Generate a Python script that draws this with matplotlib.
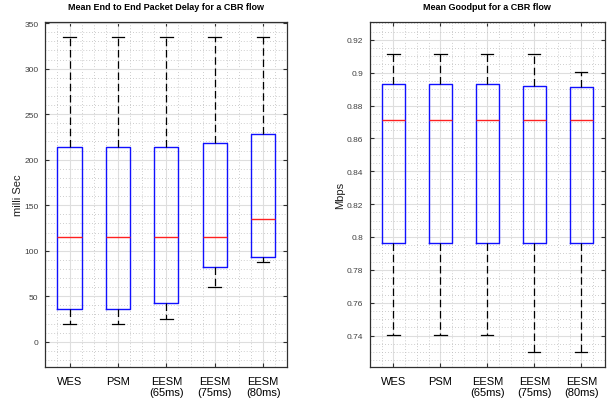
"""Box plots of mean delay and goodput for a CBR flow."""

import matplotlib

matplotlib.use("Agg")
import matplotlib.pyplot as plt
from matplotlib.ticker import MultipleLocator

plt.rcParams["font.family"] = ["Liberation Sans", "DejaVu Sans"]

schemes = ["WES", "PSM", "EESM\n(65ms)", "EESM\n(75ms)", "EESM\n(80ms)"]

# delay in milli seconds
delay_whislo = [19.8, 19.8, 24.9, 60.4, 87.5]
delay_q1 = [35.6, 35.6, 42.2, 82.4, 92.7]
delay_med = [114.6, 114.6, 114.6, 114.6, 134.4]
delay_q3 = [213.5, 213.5, 213.5, 217.9, 228.4]
delay_whishi = [334.3, 334.3, 334.3, 334.3, 334.3]

# goodput in Mbps
gp_whislo = [0.7403, 0.7403, 0.7403, 0.7301, 0.7301]
gp_q1 = [0.7966, 0.7966, 0.7966, 0.7966, 0.7966]
gp_med = [0.8713, 0.8713, 0.8713, 0.8713, 0.8713]
gp_q3 = [0.8930, 0.8930, 0.8930, 0.8920, 0.8915]
gp_whishi = [0.9116, 0.9116, 0.9116, 0.9116, 0.9003]

BOX_BLUE = "#1010ff"
MED_RED = "#ff2020"
TICK_GRAY = "#404040"


def make_stats(whislo, q1, med, q3, whishi):
    return [
        dict(whislo=lo, q1=a, med=m, q3=b, whishi=hi, fliers=[])
        for lo, a, m, b, hi in zip(whislo, q1, med, q3, whishi)
    ]


def draw_panel(ax, stats, title, ylabel, ylim, major, minor):
    positions = list(range(1, len(schemes) + 1))
    ax.bxp(
        stats,
        positions=positions,
        widths=0.5,
        capwidths=0.26,
        showfliers=False,
        boxprops=dict(color=BOX_BLUE, linewidth=1.0),
        medianprops=dict(color=MED_RED, linewidth=1.0),
        whiskerprops=dict(color="black", linewidth=0.9, linestyle=(0, (6, 3))),
        capprops=dict(color="black", linewidth=0.9),
    )
    ax.set_xlim(0.5, 5.5)
    ax.set_ylim(*ylim)
    ax.set_xticks(positions)
    ax.set_xticklabels(schemes, fontsize=8, color="black", linespacing=1.15)
    ax.xaxis.set_minor_locator(MultipleLocator(0.25))
    ax.yaxis.set_major_locator(MultipleLocator(major))
    ax.yaxis.set_minor_locator(MultipleLocator(minor))

    ax.grid(True, which="major", color="#dedede", linewidth=0.8, linestyle="-")
    ax.grid(True, which="minor", color="#bdbdbd", linewidth=0.6, linestyle=(0, (1, 2.5)))
    ax.set_axisbelow(True)

    ax.tick_params(axis="both", which="major", direction="in", top=True, right=True,
                   length=3, width=0.8, color="#303030")
    ax.tick_params(axis="y", which="major", labelsize=6, labelcolor=TICK_GRAY, pad=5)
    ax.tick_params(axis="x", which="major", pad=6)
    ax.tick_params(axis="both", which="minor", length=0)
    for spine in ax.spines.values():
        spine.set_color("#303030")
        spine.set_linewidth(0.9)

    ax.set_title(title, fontsize=6.5, fontweight="bold", pad=9)
    ax.set_ylabel(ylabel, fontsize=8, color="#202020", labelpad=1)


fig = plt.figure(figsize=(6.13, 4.02), dpi=100)
ax_delay = fig.add_axes([0.0739, 0.0838, 0.3948, 0.8597])
ax_gp = fig.add_axes([0.6036, 0.0838, 0.3829, 0.8597])

draw_panel(
    ax_delay,
    make_stats(delay_whislo, delay_q1, delay_med, delay_q3, delay_whishi),
    "Mean End to End Packet Delay for a CBR flow",
    "milli Sec",
    (-28, 351.5),
    50,
    10,
)
draw_panel(
    ax_gp,
    make_stats(gp_whislo, gp_q1, gp_med, gp_q3, gp_whishi),
    "Mean Goodput for a CBR flow",
    "Mbps",
    (0.7207, 0.931),
    0.02,
    0.005,
)
ax_gp.set_yticklabels([f"{v:g}" for v in ax_gp.get_yticks()])

fig.savefig("out.png", dpi=100, facecolor="white")
